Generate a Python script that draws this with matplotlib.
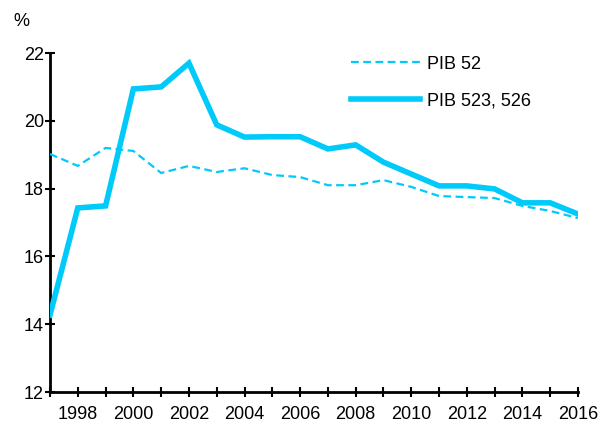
import matplotlib
matplotlib.use('Agg')
import matplotlib.pyplot as plt

plt.rcParams['font.family'] = ['Liberation Sans', 'DejaVu Sans']

years = list(range(1997, 2017))
pib_52 = [19.02, 18.67, 19.2, 19.11, 18.46, 18.67, 18.49, 18.6, 18.4, 18.34,
          18.1, 18.1, 18.25, 18.05, 17.78, 17.75, 17.72, 17.49, 17.34, 17.13]
pib_523 = [14.27, 17.43, 17.49, 20.94, 21.0, 21.7, 19.88, 19.52, 19.53, 19.53,
           19.17, 19.29, 18.78, 18.43, 18.08, 18.08, 17.99, 17.58, 17.58, 17.25]
xlabels = list(range(1998, 2017, 2))

col = '#00CAFA'

fig = plt.figure(figsize=(5.98, 4.22), dpi=100)
ax = fig.add_axes([50/598, 30/422, 528/598, 339/422])

ax.plot(years, pib_52, color=col, lw=1.6, ls=(0, (3.5, 2)), label='PIB 52')
ax.plot(years, pib_523, color=col, lw=4, solid_joinstyle='miter', label='PIB 523, 526')

ax.set_xlim(1997, 2016)
ax.set_ylim(12, 22)
ax.set_yticks([12, 14, 16, 18, 20, 22])
ax.set_xticks(years, minor=True)
ax.set_xticks(xlabels)
ax.tick_params(axis='both', which='both', direction='inout', length=7.5, width=1.5,
               labelsize=13)
ax.tick_params(axis='x', which='major', pad=6)
ax.tick_params(axis='y', which='major', pad=0.5)
for s in ['top', 'right']:
    ax.spines[s].set_visible(False)
for s in ['left', 'bottom']:
    ax.spines[s].set_linewidth(2)
ax.spines['left'].set_zorder(0)

ax.text(-0.07, 1.08, '%', transform=ax.transAxes, fontsize=13)

ax.legend(loc='upper left', bbox_to_anchor=(0.54, 1.04), frameon=False, fontsize=13,
          handlelength=3.8, handletextpad=0.4, labelspacing=1.1)

plt.savefig('out.png', dpi=100)
